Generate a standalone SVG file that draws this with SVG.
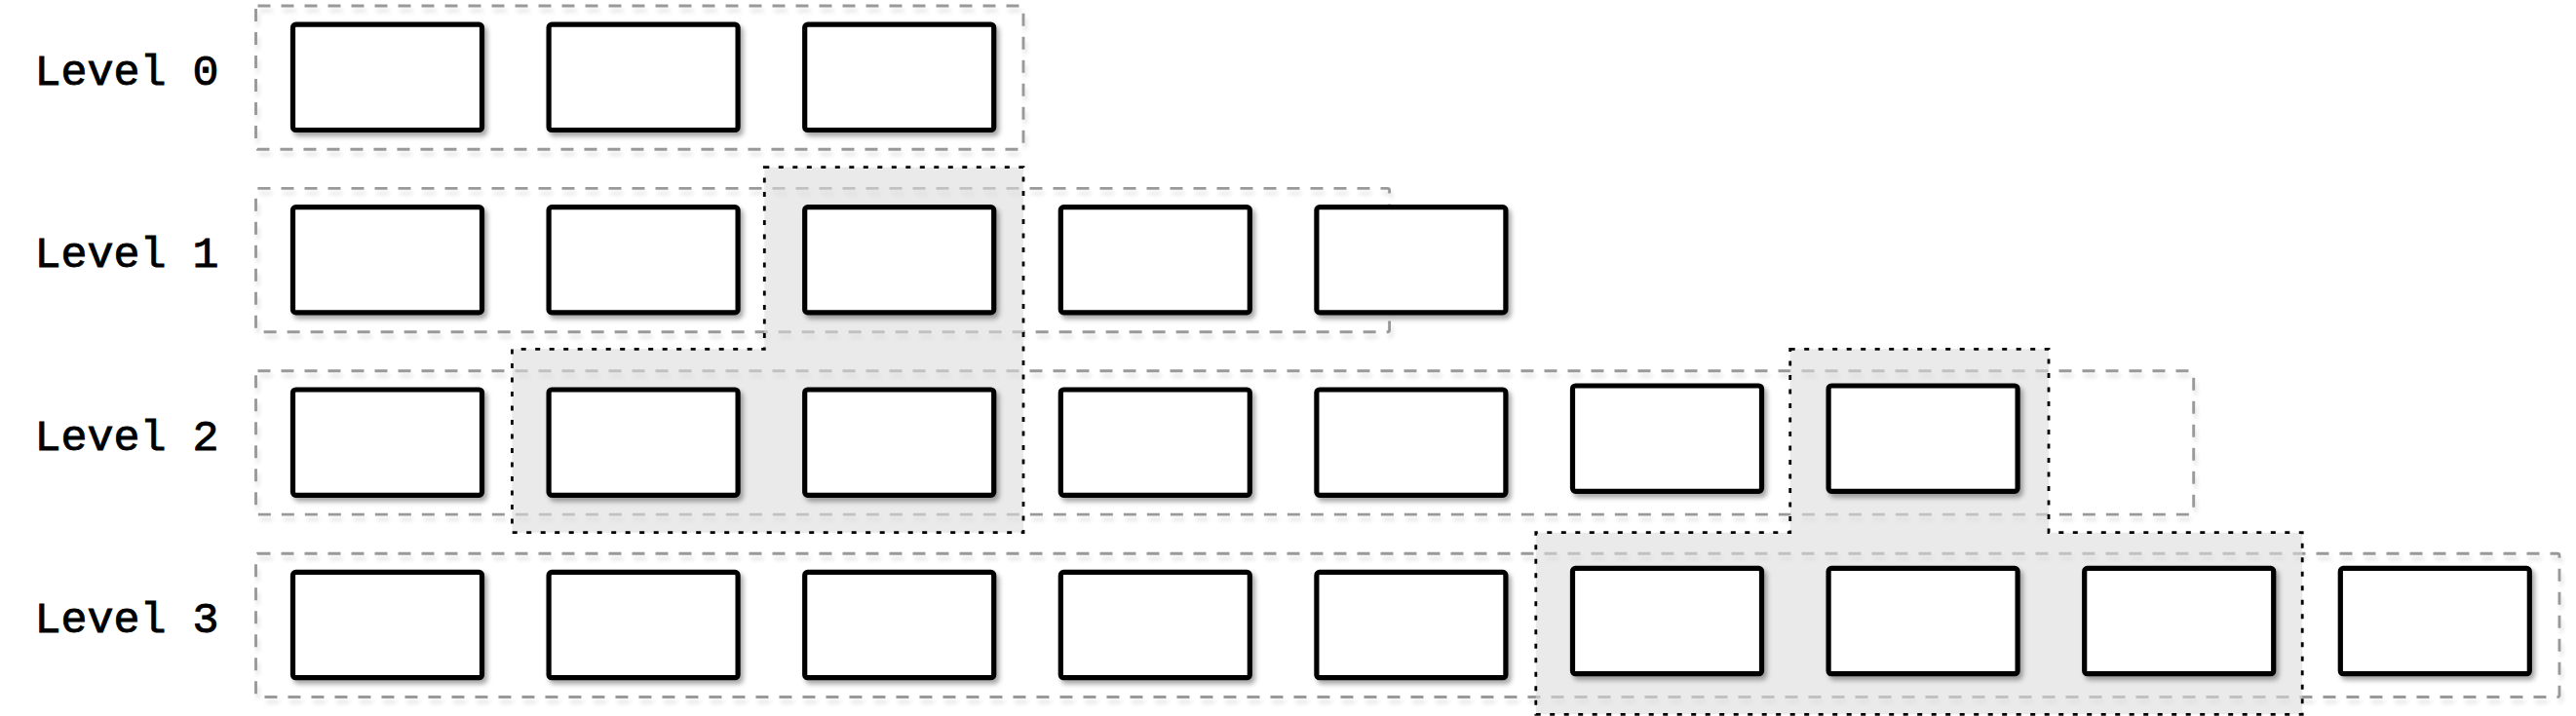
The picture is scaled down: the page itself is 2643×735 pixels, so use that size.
<svg xmlns="http://www.w3.org/2000/svg" width="2643" height="735" viewBox="0 0 2643 735">
<defs>
<filter id="boxShadow" x="-10%" y="-10%" width="130%" height="130%">
<feDropShadow dx="3" dy="4" stdDeviation="2.5" flood-color="#000" flood-opacity="0.35"/>
</filter>
<filter id="lineShadow" x="-5%" y="-10%" width="110%" height="130%">
<feDropShadow dx="2" dy="5" stdDeviation="2" flood-color="#000" flood-opacity="0.12"/>
</filter>
</defs>
<style>
.lvl{fill:none;stroke:#999999;stroke-width:2.9;stroke-dasharray:13 11;}
.hl{fill:#dcdcdc;fill-opacity:0.6;stroke:#000;stroke-width:2.8;stroke-dasharray:5 9.5;}
.box{fill:#fff;stroke:#000;stroke-width:5.2;}
.lbl{font-family:"Liberation Mono","DejaVu Sans Mono",monospace;font-size:45px;fill:#000;stroke:#000;stroke-width:0.9;text-anchor:middle;}
</style>
<rect width="2643" height="735" fill="#fff"/>
<g id="levels" filter="url(#lineShadow)">
<rect id="level0-frame" class="lvl" x="262.5" y="6" width="787.5" height="147.3" rx="2"/>
<rect id="level1-frame" class="lvl" x="262.5" y="193.4" width="1163.1" height="147.3" rx="2"/>
<rect id="level2-frame" class="lvl" x="262.5" y="380.8" width="1988.2" height="147.3" rx="2"/>
<rect id="level3-frame" class="lvl" x="262.5" y="568.2" width="2363.5" height="147.3" rx="2"/>
</g>
<g id="highlights">
<path id="highlight1" class="hl" d="M784.3,171.7 H1050 V546.7 H525.4 V358.3 H784.3 Z"/>
<path id="highlight2" class="hl" d="M1836.7,358.3 H2102 V546.7 H2362.2 V733.3 H1575.8 V546.7 H1836.7 Z"/>
</g>
<g id="labels">
<text id="label0" class="lbl" x="130" y="86.7">Level 0</text>
<text id="label1" class="lbl" x="130" y="274.1">Level 1</text>
<text id="label2" class="lbl" x="130" y="461.5">Level 2</text>
<text id="label3" class="lbl" x="130" y="648.9">Level 3</text>
</g>
<g id="row0" filter="url(#boxShadow)">
<rect id="n0-0" class="box" x="300.5" y="25.2" width="194" height="108.3" rx="3"/>
<rect id="n0-1" class="box" x="563.1" y="25.2" width="194" height="108.3" rx="3"/>
<rect id="n0-2" class="box" x="825.7" y="25.2" width="194" height="108.3" rx="3"/>
</g>
<g id="row1" filter="url(#boxShadow)">
<rect id="n1-0" class="box" x="300.5" y="212.6" width="194" height="108.3" rx="3"/>
<rect id="n1-1" class="box" x="563.1" y="212.6" width="194" height="108.3" rx="3"/>
<rect id="n1-2" class="box" x="825.7" y="212.6" width="194" height="108.3" rx="3"/>
<rect id="n1-3" class="box" x="1088.3" y="212.6" width="194" height="108.3" rx="3"/>
<rect id="n1-4" class="box" x="1350.9" y="212.6" width="194" height="108.3" rx="3"/>
</g>
<g id="row2" filter="url(#boxShadow)">
<rect id="n2-0" class="box" x="300.5" y="400" width="194" height="108.3" rx="3"/>
<rect id="n2-1" class="box" x="563.1" y="400" width="194" height="108.3" rx="3"/>
<rect id="n2-2" class="box" x="825.7" y="400" width="194" height="108.3" rx="3"/>
<rect id="n2-3" class="box" x="1088.3" y="400" width="194" height="108.3" rx="3"/>
<rect id="n2-4" class="box" x="1350.9" y="400" width="194" height="108.3" rx="3"/>
<rect id="n2-5" class="box" x="1613.5" y="396" width="194" height="108.3" rx="3"/>
<rect id="n2-6" class="box" x="1876.1" y="396" width="194" height="108.3" rx="3"/>
</g>
<g id="row3" filter="url(#boxShadow)">
<rect id="n3-0" class="box" x="300.5" y="587.4" width="194" height="108.3" rx="3"/>
<rect id="n3-1" class="box" x="563.1" y="587.4" width="194" height="108.3" rx="3"/>
<rect id="n3-2" class="box" x="825.7" y="587.4" width="194" height="108.3" rx="3"/>
<rect id="n3-3" class="box" x="1088.3" y="587.4" width="194" height="108.3" rx="3"/>
<rect id="n3-4" class="box" x="1350.9" y="587.4" width="194" height="108.3" rx="3"/>
<rect id="n3-5" class="box" x="1613.5" y="583.4" width="194" height="108.3" rx="3"/>
<rect id="n3-6" class="box" x="1876.1" y="583.4" width="194" height="108.3" rx="3"/>
<rect id="n3-7" class="box" x="2138.7" y="583.4" width="194" height="108.3" rx="3"/>
<rect id="n3-8" class="box" x="2401.3" y="583.4" width="194" height="108.3" rx="3"/>
</g>
</svg>
